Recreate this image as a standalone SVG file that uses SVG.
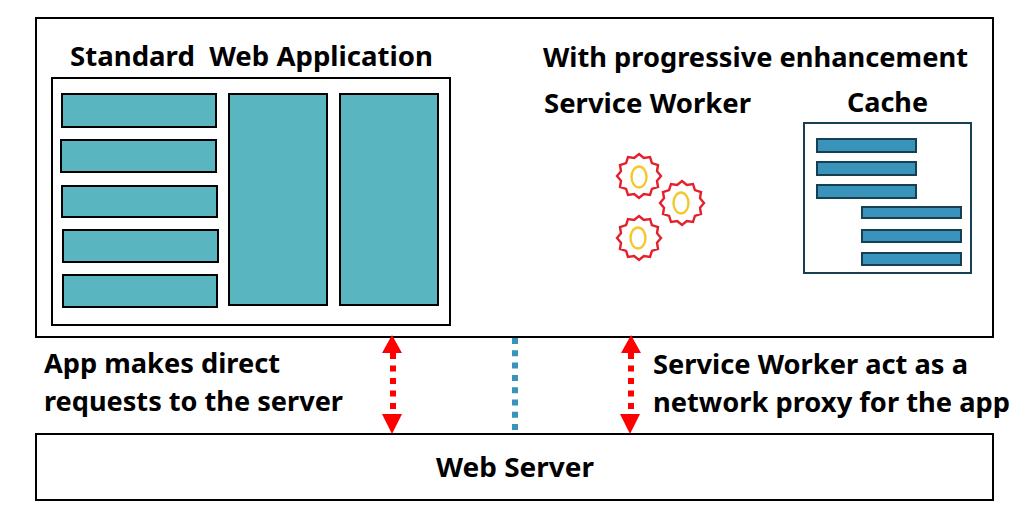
<svg xmlns="http://www.w3.org/2000/svg" width="1030" height="523" viewBox="0 0 1030 523">
<style>
.box{fill:#fff;stroke:#000;stroke-width:2}
.teal{fill:#59b5c0;stroke:#000;stroke-width:2}
.blue{fill:#3a93bb;stroke:#163f52;stroke-width:2}
.star{fill:#fff;stroke:#e3202c;stroke-width:2.4}
.oval{fill:#fff;stroke:#f3c72e;stroke-width:2.4}
.t{font-family:"Noto Sans","Open Sans",sans-serif;font-weight:700;font-size:27px;fill:#000}
.red{stroke:#f00;stroke-width:6;stroke-dasharray:6 6.5;fill:none}
.dot{stroke:#3a93bb;stroke-width:6;stroke-dasharray:6 6.3;fill:none}
</style>
<defs>
<polygon id="s" points="0,-22 4.800,-18 11,-19 12.900,-12.900 19,-11 18,-4.800 22,0 18,4.800 19,11 12.900,12.900 11,19 4.800,18 0,22 -4.800,18 -11,19 -12.900,12.900 -19,11 -18,4.800 -22,0 -18,-4.800 -19,-11 -12.900,-12.900 -11,-19 -4.800,-18"/>
</defs>
<g id="client">
<rect class="box" x="36" y="18" width="957" height="319"/>
<text class="t" x="70" y="66" textLength="363" lengthAdjust="spacingAndGlyphs" xml:space="preserve">Standard  Web Application</text>
<text class="t" x="543" y="67" textLength="425" lengthAdjust="spacingAndGlyphs">With progressive enhancement</text>
</g>
<g id="web-application">
<rect class="box" x="52" y="78" width="398" height="247"/>
<rect class="teal" x="62" y="94" width="154" height="33"/>
<rect class="teal" x="61" y="140" width="155" height="32"/>
<rect class="teal" x="62" y="186" width="155" height="31"/>
<rect class="teal" x="63" y="230" width="155" height="32"/>
<rect class="teal" x="63" y="275" width="154" height="32"/>
<rect class="teal" x="229" y="94" width="98" height="211"/>
<rect class="teal" x="340" y="94" width="98" height="211"/>
</g>
<g id="service-worker">
<text class="t" x="544" y="113" textLength="207" lengthAdjust="spacingAndGlyphs">Service Worker</text>
<use href="#s" class="star" x="639" y="176"/>
<ellipse class="oval" cx="639" cy="177" rx="7.5" ry="10.5"/>
<use href="#s" class="star" x="682" y="203"/>
<ellipse class="oval" cx="681" cy="203" rx="7.5" ry="10.5"/>
<use href="#s" class="star" x="639" y="238"/>
<ellipse class="oval" cx="638" cy="238" rx="7.5" ry="10.5"/>
</g>
<g id="cache">
<text class="t" x="847" y="112" textLength="81" lengthAdjust="spacingAndGlyphs">Cache</text>
<rect x="804" y="123" width="167" height="150" fill="#fff" stroke="#163f52" stroke-width="2"/>
<rect class="blue" x="817" y="139" width="99" height="13"/>
<rect class="blue" x="817" y="162" width="99" height="13"/>
<rect class="blue" x="817" y="185" width="99" height="13"/>
<rect class="blue" x="862" y="207" width="99" height="11"/>
<rect class="blue" x="862" y="230" width="99" height="12"/>
<rect class="blue" x="862" y="253" width="99" height="12"/>
</g>
<g id="web-server">
<rect class="box" x="36" y="434" width="957" height="66"/>
<text class="t" x="436" y="477" textLength="158" lengthAdjust="spacingAndGlyphs">Web Server</text>
</g>
<g id="connectors">
<path class="red" d="M393 353V415"/>
<polygon points="392,335 402,353 382,353" fill="#f00"/>
<polygon points="392,434 382,414 402,414" fill="#f00"/>
<path class="dot" d="M515 338V432"/>
<path class="red" d="M631 353V415"/>
<polygon points="631,335 641,353 621,353" fill="#f00"/>
<polygon points="630,434 620,414 640,414" fill="#f00"/>
</g>
<g id="labels">
<text class="t" x="44" y="373" textLength="236" lengthAdjust="spacingAndGlyphs">App makes direct</text>
<text class="t" x="44" y="411" textLength="299" lengthAdjust="spacingAndGlyphs">requests to the server</text>
<text class="t" x="653" y="374" textLength="315" lengthAdjust="spacingAndGlyphs">Service Worker act as a</text>
<text class="t" x="653" y="412" textLength="357" lengthAdjust="spacingAndGlyphs">network proxy for the app</text>
</g>
</svg>
